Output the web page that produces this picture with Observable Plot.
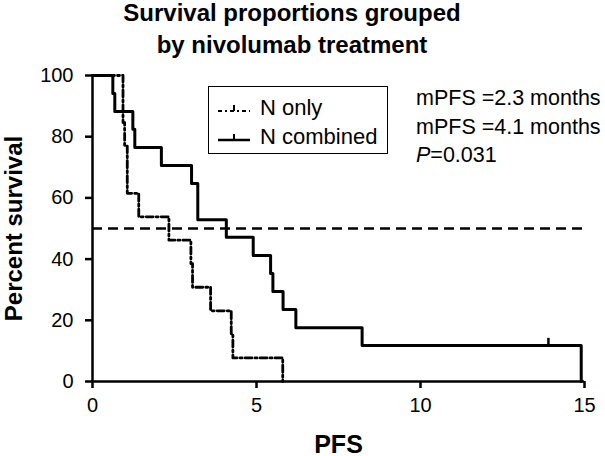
<!DOCTYPE html>
<html>
<head>
<meta charset="utf-8">
<script src="https://cdn.jsdelivr.net/npm/d3@7"></script>
<script src="https://cdn.jsdelivr.net/npm/@observablehq/plot@0.6"></script>
<style>
  body { margin: 0; background: #fff; }
  #wrap { position: relative; width: 605px; height: 456px; overflow: hidden; font-family: "Liberation Sans", Arial, sans-serif; color: #000; }
  #title { position: absolute; left: 0; top: -3px; width: 584px; text-align: center; font-weight: bold; font-size: 24px; line-height: 32px; }
  #plot { position: absolute; left: 0; top: 62px; }
  #legend { position: absolute; left: 208px; top: 86px; width: 180px; height: 68px; border: 1.5px solid #000; box-sizing: border-box; }
  #legend .row { position: absolute; left: 0; height: 29px; line-height: 29px; font-size: 22px; white-space: nowrap; }
  #legend .row span { position: absolute; left: 51px; }
  #legend svg { position: absolute; left: 8px; top: 0; }
  #stats { position: absolute; left: 416px; top: 84px; font-size: 21.5px; line-height: 28.5px; white-space: nowrap; }
</style>
</head>
<body>
<div id="wrap">
  <div id="title">Survival proportions grouped<br>by nivolumab treatment</div>
  <div id="plot"></div>
  <div id="legend"></div>
  <div id="stats"></div>
</div>
<script>
// N only (dash-dot curve)
const nOnlyTime = [0, 0.93, 0.98, 1.06, 1.41, 2.33, 3.0, 3.05, 3.6, 4.23, 4.28, 5.8];
const nOnlySurv = [100, 84.6, 76.9, 61.5, 53.8, 46.2, 38.5, 30.8, 23.1, 15.4, 7.7, 0];
// N combined (solid curve)
const nCombTime = [0, 0.62, 0.68, 1.23, 1.29, 2.10, 3.02, 3.21, 4.08, 4.9, 5.43, 5.5, 5.81, 6.2, 8.22, 14.9];
const nCombSurv = [100, 94.1, 88.2, 82.4, 76.5, 70.6, 64.7, 52.9, 47.1, 41.2, 35.3, 29.4, 23.5, 17.6, 11.8, 0];
// censored observation on N combined
const censorTime = [13.9];
const censorSurv = [11.8];
const medianLevel = [50];
const xTicks = [0, 5, 10, 15];
const yTicks = [0, 20, 40, 60, 80, 100];
const seriesNames = ["N only", "N combined"];
const statLines = ["mPFS =2.3 months", "mPFS =4.1 months"];
const pValue = "0.031";

const nOnly = nOnlyTime.map((t, i) => ({t, s: nOnlySurv[i]}));
const nComb = nCombTime.map((t, i) => ({t, s: nCombSurv[i]}));
const censor = censorTime.map((t, i) => ({t, s: censorSurv[i]}));

const chart = Plot.plot({
  width: 605,
  height: 394,
  marginTop: 13,
  marginBottom: 75,
  marginLeft: 92,
  marginRight: 21,
  style: { fontFamily: '"Liberation Sans", Arial, sans-serif', color: "#000", background: "transparent", overflow: "visible" },
  x: { domain: [0, 15] },
  y: { domain: [0, 100] },
  marks: [
    Plot.ruleY(medianLevel, { x1: 0, x2: 15, stroke: "#000", strokeWidth: 2.5, strokeDasharray: "10,6" }),
    Plot.line(nOnly, { x: "t", y: "s", curve: "step-after", stroke: "#000", strokeWidth: 2.8, strokeDasharray: "7,3,2,3" }),
    Plot.line(nComb, { x: "t", y: "s", curve: "step-after", stroke: "#000", strokeWidth: 3 }),
    Plot.ruleX(censor, { x: "t", y1: "s", y2: d => d.s + 2.3, stroke: "#000", strokeWidth: 2.5 }),
    Plot.ruleX([0], { y1: 0, y2: 100, stroke: "#000", strokeWidth: 2.5 }),
    Plot.ruleY([0], { x1: 0, x2: 15, stroke: "#000", strokeWidth: 2.5 }),
    Plot.axisY({ ticks: yTicks, tickSize: 7, tickPadding: 12, fontSize: 20, strokeWidth: 2.5, label: null }),
    Plot.axisX({ ticks: xTicks, tickSize: 7, tickPadding: 9, fontSize: 20, strokeWidth: 2.5, label: null }),
    Plot.text(["Percent survival"], { frameAnchor: "left", rotate: -90, dx: -78, fontSize: 24, fontWeight: "bold", textAnchor: "middle", lineAnchor: "middle", letterSpacing: "1.4px" }),
    Plot.text(["PFS"], { frameAnchor: "bottom", dy: 63, fontSize: 25, fontWeight: "bold", textAnchor: "middle", lineAnchor: "middle" })
  ]
});
document.getElementById("plot").appendChild(chart);

// Legend
const legend = document.getElementById("legend");
const styles = [
  { dash: "4,3,2,3", w: 2.2 },
  { dash: null, w: 2.5 }
];
seriesNames.forEach((name, i) => {
  const row = document.createElement("div");
  row.className = "row";
  row.style.top = (6 + i * 29) + "px";
  row.style.width = "178px";
  const ns = "http://www.w3.org/2000/svg";
  const svg = document.createElementNS(ns, "svg");
  svg.setAttribute("width", "36");
  svg.setAttribute("height", "29");
  const ln = document.createElementNS(ns, "line");
  ln.setAttribute("x1", "1"); ln.setAttribute("x2", "33");
  ln.setAttribute("y1", "18"); ln.setAttribute("y2", "18");
  ln.setAttribute("stroke", "#000");
  ln.setAttribute("stroke-width", styles[i].w);
  if (styles[i].dash) ln.setAttribute("stroke-dasharray", styles[i].dash);
  svg.appendChild(ln);
  const tk = document.createElementNS(ns, "line");
  tk.setAttribute("x1", "17"); tk.setAttribute("x2", "17");
  tk.setAttribute("y1", "18"); tk.setAttribute("y2", "12");
  tk.setAttribute("stroke", "#000");
  tk.setAttribute("stroke-width", "2");
  svg.appendChild(tk);
  row.appendChild(svg);
  const sp = document.createElement("span");
  sp.textContent = name;
  row.appendChild(sp);
  legend.appendChild(row);
});

// Stats text
const stats = document.getElementById("stats");
stats.innerHTML = statLines.map(s => `<div>${s}</div>`).join("") + `<div><i>P</i>=${pValue}</div>`;
</script>
</body>
</html>
